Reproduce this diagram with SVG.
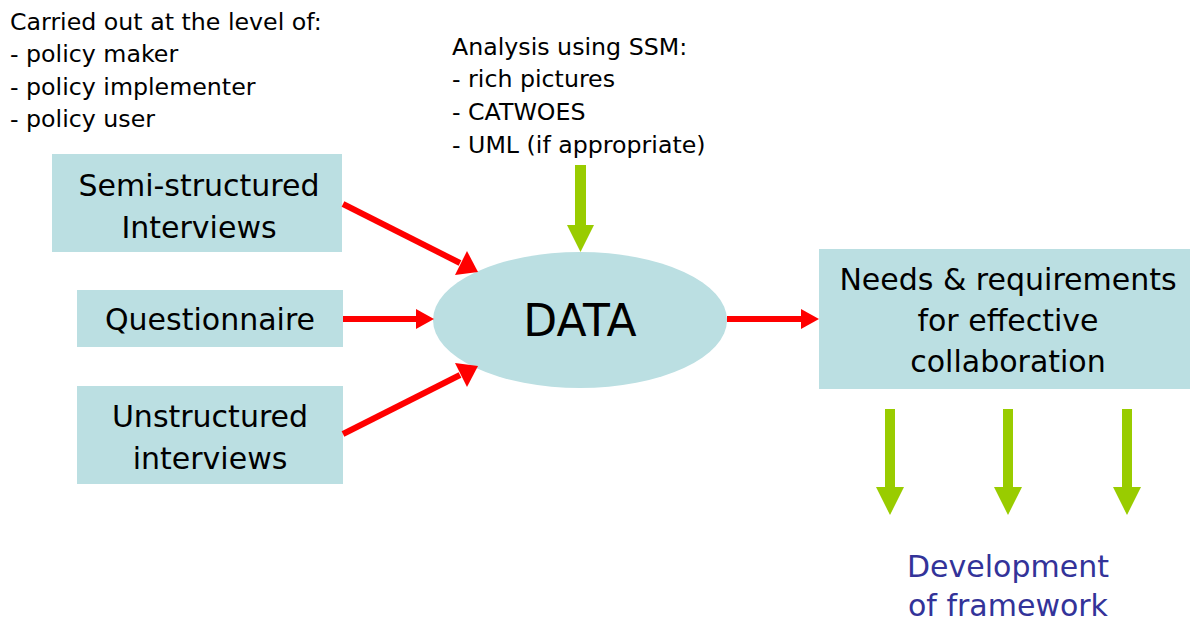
<svg xmlns="http://www.w3.org/2000/svg" width="1192" height="622" viewBox="0 0 1192 622">
  <style>
    .box { fill: #BBDFE2; }
    .note { font-family: "DejaVu Sans", Verdana, sans-serif; font-size: 23.7px; fill: #000; }
    .lbl { font-family: "DejaVu Sans", Verdana, sans-serif; font-size: 30px; fill: #000; text-anchor: middle; }
    .big { font-family: "DejaVu Sans", Verdana, sans-serif; font-size: 44px; fill: #000; text-anchor: middle; }
    .out { font-family: "DejaVu Sans", Verdana, sans-serif; font-size: 30px; fill: #333399; text-anchor: middle; }
    .red { stroke: #FF0000; stroke-width: 6; fill: none; }
    .redhead { fill: #FF0000; }
    .green { fill: #99CC00; }
  </style>
  <rect width="1192" height="622" fill="#FFFFFF"/>

  <!-- notes -->
  <g id="levels-note">
    <text class="note" x="10" y="30">Carried out at the level of:</text>
    <text class="note" x="10" y="62">- policy maker</text>
    <text class="note" x="10" y="95">- policy implementer</text>
    <text class="note" x="10" y="127">- policy user</text>
  </g>
  <g id="ssm-note">
    <text class="note" x="452" y="55">Analysis using SSM:</text>
    <text class="note" x="452" y="87">- rich pictures</text>
    <text class="note" x="452" y="120">- CATWOES</text>
    <text class="note" x="452" y="153">- UML (if appropriate)</text>
  </g>

  <!-- source nodes -->
  <g id="semi-structured">
    <rect class="box" x="52" y="154" width="290" height="98"/>
    <text class="lbl" x="199" y="196">Semi-structured</text>
    <text class="lbl" x="199" y="238">Interviews</text>
  </g>
  <g id="questionnaire">
    <rect class="box" x="77" y="290" width="266" height="57"/>
    <text class="lbl" x="210" y="330">Questionnaire</text>
  </g>
  <g id="unstructured">
    <rect class="box" x="77" y="386" width="266" height="98"/>
    <text class="lbl" x="210" y="427">Unstructured</text>
    <text class="lbl" x="210" y="469">interviews</text>
  </g>

  <!-- central node -->
  <g id="data">
    <ellipse class="box" cx="580" cy="320" rx="147" ry="68"/>
    <text class="big" x="580" y="336">DATA</text>
  </g>

  <!-- result node -->
  <g id="needs">
    <rect class="box" x="819" y="249" width="371" height="140"/>
    <text class="lbl" x="1008" y="290">Needs &amp; requirements</text>
    <text class="lbl" x="1008" y="331">for effective</text>
    <text class="lbl" x="1008" y="372">collaboration</text>
  </g>

  <g id="framework">
    <text class="out" x="1008" y="577">Development</text>
    <text class="out" x="1008" y="616">of framework</text>
  </g>

  <!-- connectors -->
  <g id="connectors">
    <!-- red flows into and out of DATA -->
    <line class="red" x1="343" y1="204" x2="460" y2="263"/>
    <polygon class="redhead" points="478,272 455,275 467,251"/>
    <line class="red" x1="343" y1="319" x2="418" y2="319"/>
    <polygon class="redhead" points="434,319 416,309 416,329"/>
    <line class="red" x1="343" y1="434" x2="460" y2="375"/>
    <polygon class="redhead" points="478,366 467,387 455,363"/>
    <line class="red" x1="727" y1="319" x2="803" y2="319"/>
    <polygon class="redhead" points="819,319 801,309 801,329"/>

    <!-- green analysis arrow -->
    <polygon class="green" points="575,165 586,165 586,225 594,225 580.5,252 567,225 575,225"/>
    <!-- green outputs -->
    <polygon class="green" points="885,409 895,409 895,487 904,487 890,515 876,487 885,487"/>
    <polygon class="green" points="1003,409 1013,409 1013,487 1022,487 1008,515 994,487 1003,487"/>
    <polygon class="green" points="1122,409 1132,409 1132,487 1141,487 1127,515 1113,487 1122,487"/>
  </g>
</svg>
